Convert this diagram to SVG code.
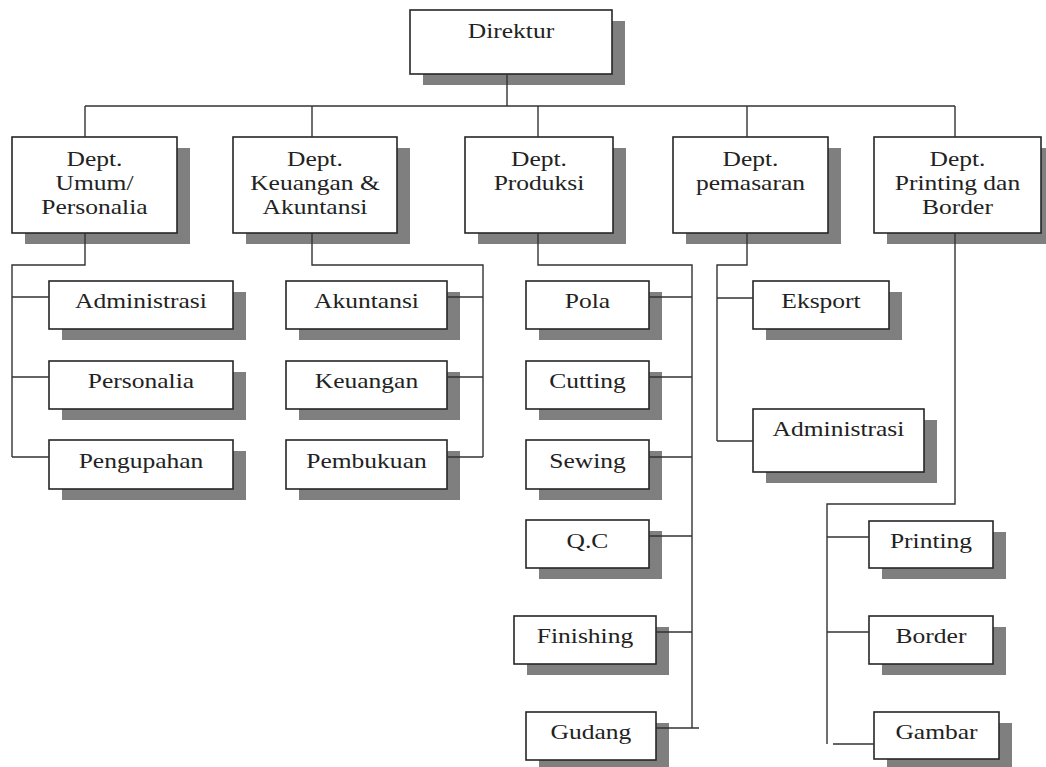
<svg xmlns="http://www.w3.org/2000/svg" width="1046" height="767" viewBox="0 0 1046 767" font-family="'Liberation Serif', 'Times New Roman', serif">
<style>
.sh{fill:#7f7f7f}
.bx{fill:#fff;stroke:#262626;stroke-width:1.6}
.t{font-size:22px;fill:#222;text-anchor:middle}
.c{fill:none;stroke:#333;stroke-width:1.4}
</style>
<rect width="1046" height="767" fill="#fff"/>
<g id="direktur"><rect class="sh" x="423" y="21" width="202" height="64"/><rect class="bx" x="410" y="10" width="202" height="64"/><text class="t" font-family="Liberation Serif" transform="translate(511 0) scale(1.16 1) translate(-511 0)" x="511" y="38">Direktur</text></g>
<g id="dept-umum"><rect class="sh" x="25" y="148" width="165" height="96"/><rect class="bx" x="12" y="137" width="165" height="96"/><text class="t" font-family="Liberation Serif" transform="translate(94.5 0) scale(1.16 1) translate(-94.5 0)" x="94.5" y="166"><tspan x="94.5">Dept.</tspan><tspan x="94.5" dy="24">Umum/</tspan><tspan x="94.5" dy="24">Personalia</tspan></text></g>
<g id="dept-keuangan"><rect class="sh" x="246" y="148" width="164" height="96"/><rect class="bx" x="233" y="137" width="164" height="96"/><text class="t" font-family="Liberation Serif" transform="translate(315 0) scale(1.16 1) translate(-315 0)" x="315" y="166"><tspan x="315">Dept.</tspan><tspan x="315" dy="24">Keuangan &amp;</tspan><tspan x="315" dy="24">Akuntansi</tspan></text></g>
<g id="dept-produksi"><rect class="sh" x="478" y="148" width="148" height="96"/><rect class="bx" x="465" y="137" width="148" height="96"/><text class="t" font-family="Liberation Serif" transform="translate(539 0) scale(1.16 1) translate(-539 0)" x="539" y="166"><tspan x="539">Dept.</tspan><tspan x="539" dy="24">Produksi</tspan></text></g>
<g id="dept-pemasaran"><rect class="sh" x="686" y="148" width="155" height="96"/><rect class="bx" x="673" y="137" width="155" height="96"/><text class="t" font-family="Liberation Serif" transform="translate(750.5 0) scale(1.16 1) translate(-750.5 0)" x="750.5" y="166"><tspan x="750.5">Dept.</tspan><tspan x="750.5" dy="24">pemasaran</tspan></text></g>
<g id="dept-printing"><rect class="sh" x="887" y="148" width="167" height="96"/><rect class="bx" x="874" y="137" width="167" height="96"/><text class="t" font-family="Liberation Serif" transform="translate(957.5 0) scale(1.16 1) translate(-957.5 0)" x="957.5" y="166"><tspan x="957.5">Dept.</tspan><tspan x="957.5" dy="24">Printing dan</tspan><tspan x="957.5" dy="24">Border</tspan></text></g>
<g id="administrasi-umum"><rect class="sh" x="62" y="292" width="184" height="48"/><rect class="bx" x="49" y="281" width="184" height="48"/><text class="t" font-family="Liberation Serif" transform="translate(141 0) scale(1.16 1) translate(-141 0)" x="141" y="308">Administrasi</text></g>
<g id="personalia"><rect class="sh" x="62" y="372" width="184" height="48"/><rect class="bx" x="49" y="361" width="184" height="48"/><text class="t" font-family="Liberation Serif" transform="translate(141 0) scale(1.16 1) translate(-141 0)" x="141" y="388">Personalia</text></g>
<g id="pengupahan"><rect class="sh" x="62" y="451" width="184" height="49"/><rect class="bx" x="49" y="440" width="184" height="49"/><text class="t" font-family="Liberation Serif" transform="translate(141 0) scale(1.16 1) translate(-141 0)" x="141" y="468">Pengupahan</text></g>
<g id="akuntansi"><rect class="sh" x="299" y="292" width="161" height="48"/><rect class="bx" x="286" y="281" width="161" height="48"/><text class="t" font-family="Liberation Serif" transform="translate(366.5 0) scale(1.16 1) translate(-366.5 0)" x="366.5" y="308">Akuntansi</text></g>
<g id="keuangan"><rect class="sh" x="299" y="372" width="161" height="48"/><rect class="bx" x="286" y="361" width="161" height="48"/><text class="t" font-family="Liberation Serif" transform="translate(366.5 0) scale(1.16 1) translate(-366.5 0)" x="366.5" y="388">Keuangan</text></g>
<g id="pembukuan"><rect class="sh" x="299" y="451" width="161" height="49"/><rect class="bx" x="286" y="440" width="161" height="49"/><text class="t" font-family="Liberation Serif" transform="translate(366.5 0) scale(1.16 1) translate(-366.5 0)" x="366.5" y="468">Pembukuan</text></g>
<g id="pola"><rect class="sh" x="539" y="292" width="123" height="48"/><rect class="bx" x="526" y="281" width="123" height="48"/><text class="t" font-family="Liberation Serif" transform="translate(587.5 0) scale(1.16 1) translate(-587.5 0)" x="587.5" y="308">Pola</text></g>
<g id="cutting"><rect class="sh" x="539" y="372" width="123" height="48"/><rect class="bx" x="526" y="361" width="123" height="48"/><text class="t" font-family="Liberation Serif" transform="translate(587.5 0) scale(1.16 1) translate(-587.5 0)" x="587.5" y="388">Cutting</text></g>
<g id="sewing"><rect class="sh" x="539" y="451" width="123" height="49"/><rect class="bx" x="526" y="440" width="123" height="49"/><text class="t" font-family="Liberation Serif" transform="translate(587.5 0) scale(1.16 1) translate(-587.5 0)" x="587.5" y="468">Sewing</text></g>
<g id="qc"><rect class="sh" x="539" y="531" width="123" height="48"/><rect class="bx" x="526" y="520" width="123" height="48"/><text class="t" font-family="Liberation Serif" transform="translate(587.5 0) scale(1.16 1) translate(-587.5 0)" x="587.5" y="548">Q.C</text></g>
<g id="finishing"><rect class="sh" x="527" y="627" width="142" height="48"/><rect class="bx" x="514" y="616" width="142" height="48"/><text class="t" font-family="Liberation Serif" transform="translate(585 0) scale(1.16 1) translate(-585 0)" x="585" y="643">Finishing</text></g>
<g id="gudang"><rect class="sh" x="539" y="723" width="130" height="48"/><rect class="bx" x="526" y="712" width="130" height="48"/><text class="t" font-family="Liberation Serif" transform="translate(591 0) scale(1.16 1) translate(-591 0)" x="591" y="739">Gudang</text></g>
<g id="eksport"><rect class="sh" x="766" y="292" width="136" height="48"/><rect class="bx" x="753" y="281" width="136" height="48"/><text class="t" font-family="Liberation Serif" transform="translate(821 0) scale(1.16 1) translate(-821 0)" x="821" y="308">Eksport</text></g>
<g id="administrasi-pemasaran"><rect class="sh" x="766" y="420" width="171" height="63"/><rect class="bx" x="753" y="409" width="171" height="63"/><text class="t" font-family="Liberation Serif" transform="translate(838.5 0) scale(1.16 1) translate(-838.5 0)" x="838.5" y="436">Administrasi</text></g>
<g id="printing"><rect class="sh" x="882" y="532" width="124" height="47"/><rect class="bx" x="869" y="521" width="124" height="47"/><text class="t" font-family="Liberation Serif" transform="translate(931 0) scale(1.16 1) translate(-931 0)" x="931" y="548">Printing</text></g>
<g id="border"><rect class="sh" x="882" y="627" width="124" height="48"/><rect class="bx" x="869" y="616" width="124" height="48"/><text class="t" font-family="Liberation Serif" transform="translate(931 0) scale(1.16 1) translate(-931 0)" x="931" y="643">Border</text></g>
<g id="gambar"><rect class="sh" x="887" y="723" width="125" height="47"/><rect class="bx" x="874" y="712" width="125" height="47"/><text class="t" font-family="Liberation Serif" transform="translate(936.5 0) scale(1.16 1) translate(-936.5 0)" x="936.5" y="739">Gambar</text></g>
<g id="connectors">
<path class="c" d="M507 74V106M85 106H955M85 106V137M312 106V137M538 106V137M747 106V137M955 106V137"/>
<path class="c" d="M85 233V265H12V457M12 297H49M12 377H49M12 457H49"/>
<path class="c" d="M312 233V265H483V457M483 297H447M483 377H447M483 457H447"/>
<path class="c" d="M538 233V265H692V728M692 297H649M692 377H649M692 457H649M692 536H649M692 632H656M699 728H656"/>
<path class="c" d="M747 233V265H717V441M717 298H753M717 441H753"/>
<path class="c" d="M955 233V504H827V744M827 537H869M827 632H869M833 744H874"/>
</g>
</svg>
